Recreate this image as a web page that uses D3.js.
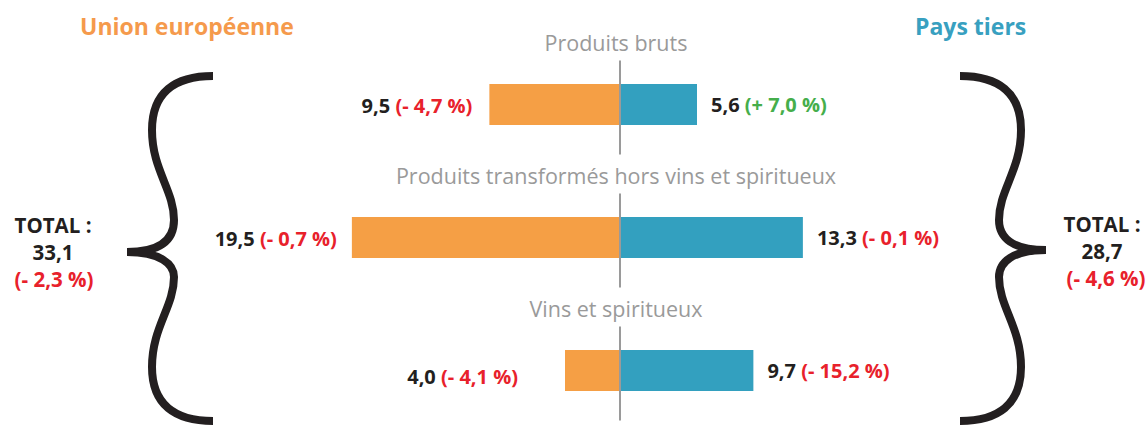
<!DOCTYPE html>
<html>
<head>
<meta charset="utf-8">
<script src="https://cdn.jsdelivr.net/npm/d3@7"></script>
<style>
  body { margin: 0; background: #fff; }
  text { font-family: "Open Sans", "DejaVu Sans", sans-serif; }
</style>
</head>
<body>
<div id="chart-area"></div>
<script>
// Data
var categories = ["Produits bruts", "Produits transformés hors vins et spiritueux", "Vins et spiritueux"];
var ueValues = [9.5, 19.5, 4.0];
var ueChanges = [-4.7, -0.7, -4.1];
var ptValues = [5.6, 13.3, 9.7];
var ptChanges = [7.0, -0.1, -15.2];
var seriesNames = ["Union européenne", "Pays tiers"];
var totalValues = [33.1, 28.7];
var totalChanges = [-2.3, -4.6];

var width = 1148, height = 430;
var center = 620;
var orange = "#f59f45", blue = "#33a0bf";
var red = "#e8212b", green = "#45ae4b", dark = "#231f20", grey = "#9a9a9a";

// left label of the last bar sits further away in the original
var leftGap = [17, 15, 47];
var leftDy = [8, 8, 13];

var fr = d3.formatLocale({ decimal: ",", thousands: " ", grouping: [3], currency: ["", " €"] });
var fmt = fr.format(".1f");
function changeLabel(v) {
    return "(" + (v < 0 ? "- " : "+ ") + fmt(Math.abs(v)) + " %)";
}

var x = d3.scaleLinear()
    .domain([0, 20])
    .range([0, 275]);
var y = d3.scaleBand()
    .domain(categories)
    .range([38, 437])
    .paddingInner(0);
var barH = 41;

var svg = d3.select("#chart-area").append("svg")
    .attr("width", width)
    .attr("height", height);

var rows = svg.selectAll("g.row")
    .data(categories)
    .enter().append("g")
    .attr("class", "row")
    .attr("transform", function(d) { return "translate(0," + (y(d) + y.bandwidth() / 2) + ")"; });

// category titles
rows.append("text")
    .attr("x", center - 4)
    .attr("y", -54)
    .attr("text-anchor", "middle")
    .style("font-size", "21.5px")
    .style("fill", grey)
    .text(function(d) { return d; });

// bars
rows.append("rect")
    .attr("x", function(d, i) { return center - x(ueValues[i]); })
    .attr("y", -barH / 2)
    .attr("width", function(d, i) { return x(ueValues[i]); })
    .attr("height", barH)
    .style("fill", orange);

rows.append("rect")
    .attr("x", center)
    .attr("y", -barH / 2)
    .attr("width", function(d, i) { return x(ptValues[i]); })
    .attr("height", barH)
    .style("fill", blue);

// centre axis segment
rows.append("line")
    .attr("x1", center).attr("x2", center)
    .attr("y1", -44).attr("y2", 50)
    .style("stroke", grey)
    .style("stroke-width", 2);

// value labels
var leftLab = rows.append("text")
    .attr("x", function(d, i) { return center - x(ueValues[i]) - leftGap[i]; })
    .attr("y", function(d, i) { return leftDy[i]; })
    .attr("text-anchor", "end")
    .style("font-size", "20px")
    .style("font-weight", "bold");
leftLab.append("tspan")
    .style("fill", dark)
    .text(function(d, i) { return fmt(ueValues[i]) + " "; });
leftLab.append("tspan")
    .style("fill", function(d, i) { return ueChanges[i] < 0 ? red : green; })
    .text(function(d, i) { return changeLabel(ueChanges[i]); });

var rightLab = rows.append("text")
    .attr("x", function(d, i) { return center + x(ptValues[i]) + 14; })
    .attr("y", 7)
    .attr("text-anchor", "start")
    .style("font-size", "20px")
    .style("font-weight", "bold");
rightLab.append("tspan")
    .style("fill", dark)
    .text(function(d, i) { return fmt(ptValues[i]) + " "; });
rightLab.append("tspan")
    .style("fill", function(d, i) { return ptChanges[i] < 0 ? red : green; })
    .text(function(d, i) { return changeLabel(ptChanges[i]); });

// series headers
svg.append("text")
    .attr("x", 80).attr("y", 35)
    .style("font-size", "23px")
    .style("font-weight", "bold")
    .style("fill", "#f59a4c")
    .text(seriesNames[0]);
svg.append("text")
    .attr("x", 915).attr("y", 35)
    .style("font-size", "23px")
    .style("font-weight", "bold")
    .style("fill", "#38a0c0")
    .text(seriesNames[1]);

// braces
function brace(tip, dir, top, mid, bot) {
    var X = function(o) { return tip - dir * o; };
    var p = d3.path();
    p.moveTo(X(0), top);
    p.bezierCurveTo(X(38), top, X(61), top + 16, X(61), top + 54);
    p.bezierCurveTo(X(61), top + 94, X(39), top + 114, X(39), top + 144);
    p.bezierCurveTo(X(39), mid - 12, X(53), mid, X(86), mid);
    p.moveTo(X(86), mid);
    p.bezierCurveTo(X(53), mid, X(39), mid + 12, X(39), bot - 144);
    p.bezierCurveTo(X(39), bot - 114, X(61), bot - 94, X(61), bot - 54);
    p.bezierCurveTo(X(61), bot - 16, X(38), bot, X(0), bot);
    return p.toString();
}
svg.append("path")
    .attr("d", brace(213, 1, 76, 252, 421))
    .style("fill", "none")
    .style("stroke", dark)
    .style("stroke-width", 8);
svg.append("path")
    .attr("d", brace(960, -1, 76, 250, 421))
    .style("fill", "none")
    .style("stroke", dark)
    .style("stroke-width", 8);

// totals
var totalX = [53, 1102];
totalValues.forEach(function(v, i) {
    var g = svg.append("g")
        .attr("transform", "translate(" + totalX[i] + "," + (i === 0 ? 233 : 232) + ")")
        .style("font-size", "20.5px")
        .style("font-weight", "bold")
        .attr("text-anchor", "middle");
    g.append("text").attr("y", 0).style("fill", dark).text("TOTAL :");
    g.append("text").attr("y", 27).style("fill", dark).text(fmt(v));
    g.append("text").attr("x", i === 0 ? 1 : 4).attr("y", 54)
        .style("fill", red).text(changeLabel(totalChanges[i]));
});
</script>
</body>
</html>
